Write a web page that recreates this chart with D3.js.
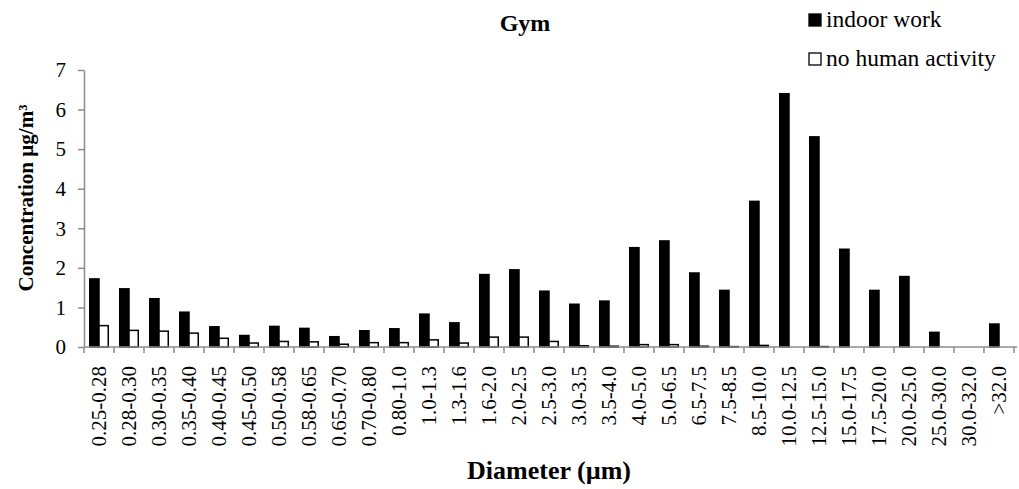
<!DOCTYPE html>
<html>
<head>
<meta charset="utf-8">
<script src="https://cdn.jsdelivr.net/npm/d3@7"></script>
<style>
  body { margin: 0; background: #fff; }
  svg text { font-family: "Liberation Serif", "Times New Roman", Times, serif; fill: #000; }
</style>
</head>
<body>
<div id="chart"></div>
<script>
let width = 1019,
    height = 489,
    margin = ({ top: 70, right: 5, bottom: 142, left: 84 });

// size bins (µm)
const categories = ["0.25-0.28", "0.28-0.30", "0.30-0.35", "0.35-0.40", "0.40-0.45", "0.45-0.50",
  "0.50-0.58", "0.58-0.65", "0.65-0.70", "0.70-0.80", "0.80-1.0", "1.0-1.3", "1.3-1.6", "1.6-2.0",
  "2.0-2.5", "2.5-3.0", "3.0-3.5", "3.5-4.0", "4.0-5.0", "5.0-6.5", "6.5-7.5", "7.5-8.5", "8.5-10.0",
  "10.0-12.5", "12.5-15.0", "15.0-17.5", "17.5-20.0", "20.0-25.0", "25.0-30.0", "30.0-32.0", ">32.0"];

const indoorWork = [1.72, 1.47, 1.22, 0.88, 0.51, 0.29, 0.52, 0.47, 0.26, 0.41, 0.46, 0.83, 0.61, 1.83,
  1.95, 1.41, 1.08, 1.16, 2.51, 2.68, 1.87, 1.43, 3.68, 6.40, 5.31, 2.47, 1.43, 1.78, 0.37, 0, 0.58];

const noActivity = [0.54, 0.42, 0.40, 0.35, 0.22, 0.10, 0.14, 0.13, 0.07, 0.11, 0.11, 0.18, 0.10, 0.25,
  0.25, 0.14, 0.03, 0.02, 0.06, 0.06, 0.02, 0.01, 0.04, 0, 0.01, 0, 0, 0, 0, 0, 0];

const seriesNames = ["indoor work", "no human activity"];
const seriesColors = ["#000", "#fff"];
const yTicks = [0, 1, 2, 3, 4, 5, 6, 7];

const data = categories.map((c, i) => ({ cat: c, values: [indoorWork[i], noActivity[i]] }));

const svg = d3.select("#chart")
  .append("svg")
  .attr("width", width)
  .attr("height", height);

let x0 = d3.scaleBand()
  .domain(categories)
  .range([margin.left, 1014])
  .padding(0);

let x1 = d3.scaleBand()
  .domain(d3.range(seriesNames.length))
  .range([0, x0.bandwidth()])
  .paddingInner(0)
  .paddingOuter(0.62);

let y = d3.scaleLinear()
  .domain([0, 7])
  .range([347, margin.top]);

// y axis
const yAxis = svg.append("g")
  .attr("transform", `translate(${margin.left},0)`)
  .call(d3.axisLeft(y).tickValues(yTicks).tickFormat(d3.format("d"))
    .tickSize(6).tickSizeOuter(0).tickPadding(12));
yAxis.select(".domain").attr("stroke", "#8c8c8c").attr("stroke-width", 1.5);
yAxis.selectAll(".tick line").attr("stroke", "#8c8c8c").attr("stroke-width", 1.5);
yAxis.selectAll("text").style("font-size", "21px");
yAxis.attr("font-family", null).attr("font-size", null);

// bars
const groups = svg.append("g")
  .selectAll("g")
  .data(data)
  .join("g")
  .attr("transform", d => `translate(${x0(d.cat)},0)`);

groups.selectAll("rect")
  .data(d => d.values.map((v, k) => ({ v, k })))
  .join("rect")
  .attr("x", d => x1(d.k))
  .attr("y", d => y(d.v))
  .attr("width", x1.bandwidth())
  .attr("height", d => y(0) - y(d.v))
  .attr("fill", d => seriesColors[d.k])
  .attr("stroke", "#000")
  .attr("stroke-width", d => d.v > 0 ? 1.5 : 0);

// x axis (tick marks at band edges)
const xg = svg.append("g")
  .attr("transform", `translate(0,${y(0)})`);
xg.append("line")
  .attr("x1", margin.left)
  .attr("x2", 1017)
  .attr("stroke", "#8c8c8c")
  .attr("stroke-width", 1.5);
xg.selectAll(".edge")
  .data(categories.concat(["end"]))
  .join("line")
  .attr("class", "edge")
  .attr("x1", (d, i) => margin.left + i * x0.step())
  .attr("x2", (d, i) => margin.left + i * x0.step())
  .attr("y1", 0)
  .attr("y2", 6)
  .attr("stroke", "#8c8c8c")
  .attr("stroke-width", 1.5);
xg.selectAll(".lbl")
  .data(categories)
  .join("text")
  .attr("class", "lbl")
  .attr("transform", d => `translate(${x0(d) + x0.bandwidth() / 2 + 7},19) rotate(-90)`)
  .attr("text-anchor", "end")
  .style("font-size", "21px")
  .text(d => d);

// titles
svg.append("text")
  .attr("x", 525)
  .attr("y", 31)
  .attr("text-anchor", "middle")
  .style("font-weight", "bold")
  .style("font-size", "24px")
  .text("Gym");

svg.append("text")
  .attr("x", 549)
  .attr("y", 479)
  .attr("text-anchor", "middle")
  .style("font-weight", "bold")
  .style("font-size", "26px")
  .text("Diameter (µm)");

svg.append("text")
  .attr("transform", "translate(33,198) rotate(-90)")
  .attr("text-anchor", "middle")
  .style("font-weight", "bold")
  .style("font-size", "21px")
  .text("Concentration µg/m³");

// legend
const legend = svg.append("g")
  .selectAll("g")
  .data(seriesNames)
  .join("g")
  .attr("transform", (d, i) => `translate(809,${14 + i * 39})`);
legend.append("rect")
  .attr("width", 12)
  .attr("height", 12)
  .attr("fill", (d, i) => seriesColors[i])
  .attr("stroke", "#000")
  .attr("stroke-width", 1.3);
legend.append("text")
  .attr("x", 17)
  .attr("y", 13)
  .style("font-size", "23.5px")
  .text(d => d);
</script>
</body>
</html>
